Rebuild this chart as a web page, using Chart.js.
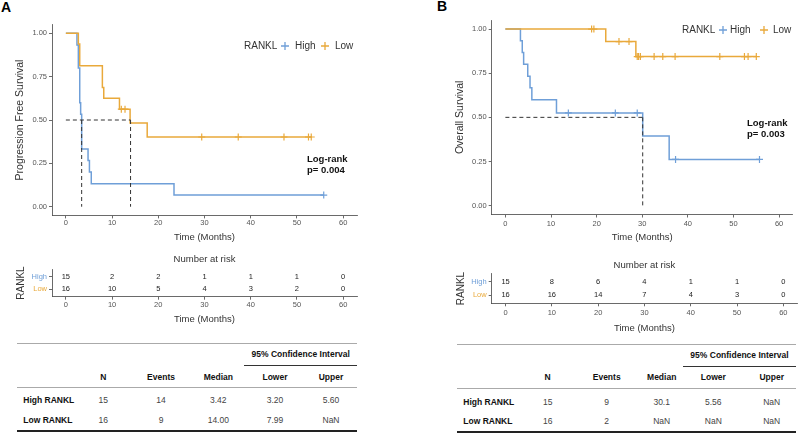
<!DOCTYPE html>
<html>
<head>
<meta charset="utf-8">
<script src="https://cdn.jsdelivr.net/npm/chart.js@4.4.1/dist/chart.umd.min.js"></script>
<style>
  html, body { margin: 0; padding: 0; background: #fff; }
  #fig { position: relative; width: 798px; height: 433px; overflow: hidden; font-family: "Liberation Sans", Arial, sans-serif; }
  #fig canvas { position: absolute; }
  .panel { position: absolute; font-weight: bold; font-size: 14px; color: #000; }
  .cell { position: absolute; font-size: 8.5px; color: #444; white-space: nowrap; transform: translate(-50%, -50%); }
  .cell.left { transform: translate(0, -50%); }
  .cell.b { font-weight: bold; color: #111; }
  .rule { position: absolute; height: 0; }
</style>
</head>
<body>
<div id="fig">
  <div class="panel" style="left:1px;top:-1px;">A</div>
  <div class="panel" style="left:437px;top:-2px;">B</div>
  <canvas id="kmA" width="400" height="245" style="left:0;top:0;"></canvas>
  <canvas id="kmB" width="398" height="245" style="left:400px;top:0;"></canvas>
  <canvas id="riskA" width="400" height="90" style="left:0;top:245px;"></canvas>
  <canvas id="riskB" width="398" height="90" style="left:400px;top:245px;"></canvas>
</div>
<script>
// ---- data ----
var ticksX = [0, 10, 20, 30, 40, 50, 60];
var ticksY = [0, 0.25, 0.5, 0.75, 1];

// A: progression free survival
var pfsHighT = [0, 2.4, 2.7, 3.0, 3.2, 3.42, 4.8, 5.1, 5.5, 23.4, 55.8];
var pfsHighS = [1, 0.933, 0.8, 0.6, 0.533, 0.333, 0.267, 0.2, 0.133, 0.067, 0.067];
var pfsHighCens = [55.8];
var pfsLowT = [0, 2.7, 3.0, 7.9, 8.2, 11.6, 13.9, 17.6, 53.1];
var pfsLowS = [1, 0.9375, 0.8125, 0.6875, 0.625, 0.5625, 0.482, 0.402, 0.402];
var pfsLowCens = [12.0, 12.8, 29.4, 37.3, 47.2, 52.5, 53.1];
var pfsMedian = [3.42, 14.0];
var pfsRiskHigh = [15, 2, 2, 1, 1, 1, 0];
var pfsRiskLow = [16, 10, 5, 4, 3, 2, 0];

// B: overall survival
var osHighT = [0, 3.3, 3.7, 4.0, 4.9, 5.4, 5.8, 11.2, 30.1, 35.9, 55.7];
var osHighS = [1, 0.933, 0.867, 0.8, 0.733, 0.667, 0.6, 0.525, 0.394, 0.262, 0.262];
var osHighCens = [13.8, 24.1, 28.9, 37.3, 55.7];
var osLowT = [0, 22.0, 28.6, 55.0];
var osLowS = [1, 0.929, 0.844, 0.844];
var osLowCens = [18.9, 19.4, 24.9, 27.1, 28.9, 29.2, 29.6, 32.6, 34.5, 37.2, 47.0, 52.4, 53.2, 55.0];
var osMedian = [30.1];
var osRiskHigh = [15, 8, 6, 4, 1, 1, 0];
var osRiskLow = [16, 16, 14, 7, 4, 3, 0];

// summary tables
var tableHead = ['N', 'Events', 'Median', 'Lower', 'Upper'];
var pfsTable = [
  ['High RANKL', '15', '14', '3.42', '3.20', '5.60'],
  ['Low RANKL', '16', '9', '14.00', '7.99', 'NaN']
];
var osTable = [
  ['High RANKL', '15', '9', '30.1', '5.56', 'NaN'],
  ['Low RANKL', '16', '2', 'NaN', 'NaN', 'NaN']
];

var blue = '#6f9fd8';
var orange = '#e9a93b';
var axisCol = '#444';
var tickCol = '#555';

Chart.defaults.font.family = '"Liberation Sans", Arial, sans-serif';
Chart.defaults.animation = false;
Chart.defaults.events = [];

// value of the step curve at time t
function survAt(T, S, t) {
  var s = S[0];
  for (var i = 0; i < T.length; i++) { if (T[i] <= t) s = S[i]; }
  return s;
}

function pts(T, S) {
  return T.map(function (t, i) { return {x: t, y: S[i]}; });
}

// text bits: legend, log-rank label, risk numbers
var decor = {
  id: 'decor',
  afterDraw: function (chart, args, opts) {
    var ctx = chart.ctx;
    ctx.save();
    ctx.textBaseline = 'middle';
    if (opts.legend) {
      var lg = opts.legend;
      ctx.font = '10px "Liberation Sans", Arial, sans-serif';
      ctx.fillStyle = '#333';
      ctx.textAlign = 'left';
      ctx.fillText('RANKL', lg.title, lg.y);
      [[lg.m1, lg.t1, blue, 'High'], [lg.m2, lg.t2, orange, 'Low']].forEach(function (it) {
        ctx.strokeStyle = it[2];
        ctx.lineWidth = 1.3;
        ctx.beginPath();
        ctx.moveTo(it[0] - 4, lg.y); ctx.lineTo(it[0] + 4, lg.y);
        ctx.moveTo(it[0], lg.y - 4); ctx.lineTo(it[0], lg.y + 4);
        ctx.stroke();
        ctx.fillStyle = '#333';
        ctx.fillText(it[3], it[1], lg.y);
      });
    }
    if (opts.logrank) {
      ctx.font = 'bold 9.5px "Liberation Sans", Arial, sans-serif';
      ctx.fillStyle = '#111';
      ctx.textAlign = 'left';
      ctx.fillText('Log-rank', opts.logrank.x, opts.logrank.y);
      ctx.fillText(opts.logrank.p, opts.logrank.x, opts.logrank.y + 11);
    }
    if (opts.riskTitle) {
      var ca = chart.chartArea;
      ctx.font = '9.5px "Liberation Sans", Arial, sans-serif';
      ctx.fillStyle = '#333';
      ctx.textAlign = 'center';
      ctx.fillText('Number at risk', (ca.left + ca.right) / 2, opts.riskTitle);
    }
    ctx.font = '7.5px "Liberation Sans", Arial, sans-serif';
    ctx.fillStyle = '#222';
    ctx.textAlign = 'center';
    chart.data.datasets.forEach(function (ds, i) {
      if (!ds.counts) return;
      chart.getDatasetMeta(i).data.forEach(function (el, j) {
        ctx.fillText(String(ds.counts[j]), el.x, el.y);
      });
    });
    ctx.restore();
  }
};
Chart.register(decor);

function xAxis(h, pad, tpad) {
  return {
    type: 'linear', min: -3, max: 63,
    afterBuildTicks: function (s) { s.ticks = ticksX.map(function (v) { return {value: v}; }); },
    afterFit: function (s) { s.height = h; },
    grid: {drawOnChartArea: false, tickLength: 3, color: axisCol, lineWidth: 0.8},
    border: {color: axisCol, width: 0.8},
    ticks: {padding: pad, color: tickCol, font: {size: 7.5}, maxRotation: 0, autoSkip: false},
    title: {display: true, text: 'Time (Months)', color: '#333', font: {size: 9.5}, padding: {top: 0, bottom: tpad}}
  };
}

function kmChart(id, c) {
  var ds = [];
  var maxMed = Math.max.apply(null, c.median);
  ds.push({type: 'line', data: [{x: 0, y: 0.5}, {x: maxMed, y: 0.5}], borderColor: '#333', borderWidth: 1, borderDash: [4, 3], pointRadius: 0});
  c.median.forEach(function (m) {
    ds.push({type: 'line', data: [{x: m, y: 0.5}, {x: m, y: 0}], borderColor: '#333', borderWidth: 1, borderDash: [4, 3], pointRadius: 0});
  });
  ds.push({type: 'scatter', data: c.lowCens.map(function (t) { return {x: t, y: survAt(c.lowT, c.lowS, t)}; }),
    pointStyle: 'cross', pointRadius: 3.5, borderColor: orange, borderWidth: 1.2});
  ds.push({type: 'scatter', data: c.highCens.map(function (t) { return {x: t, y: survAt(c.highT, c.highS, t)}; }),
    pointStyle: 'cross', pointRadius: 3.5, borderColor: blue, borderWidth: 1.2});
  // stepped 'before': hold the previous value, then drop at the event time
  ds.push({type: 'line', data: pts(c.lowT, c.lowS), stepped: 'before', borderColor: orange, borderWidth: 1.5, pointRadius: 0});
  ds.push({type: 'line', data: pts(c.highT, c.highS), stepped: 'before', borderColor: blue, borderWidth: 1.5, pointRadius: 0});

  return new Chart(document.getElementById(id), {
    type: 'scatter',
    data: {datasets: ds},
    options: {
      responsive: false,
      layout: {padding: {top: c.top, right: c.right, left: 0, bottom: 0}},
      plugins: {legend: {display: false}, tooltip: {enabled: false},
        decor: {legend: c.legend, logrank: c.logrank}},
      scales: {
        x: xAxis(c.xh, c.xpad, 2.3),
        y: {
          type: 'linear', min: -0.05, max: 1.05,
          afterBuildTicks: function (s) { s.ticks = ticksY.map(function (v) { return {value: v}; }); },
          afterFit: function (s) { s.width = c.yw; },
          grid: {drawOnChartArea: false, tickLength: 3, color: axisCol, lineWidth: 0.8},
          border: {color: axisCol, width: 0.8},
          ticks: {padding: 2, color: tickCol, font: {size: 7.5}, callback: function (v) { return Number(v).toFixed(2); }},
          title: {display: true, text: c.ytitle, color: '#333', font: {size: 10.5}, padding: {top: c.ytpad, bottom: 0}}
        }
      }
    }
  });
}

function riskChart(id, c) {
  return new Chart(document.getElementById(id), {
    type: 'scatter',
    data: {datasets: [
      {data: ticksX.map(function (t) { return {x: t, y: 2}; }), counts: c.high, pointRadius: 0},
      {data: ticksX.map(function (t) { return {x: t, y: 1}; }), counts: c.low, pointRadius: 0}
    ]},
    options: {
      responsive: false,
      layout: {padding: {top: c.top, right: c.right, left: 0, bottom: 0}},
      plugins: {legend: {display: false}, tooltip: {enabled: false}, decor: {riskTitle: c.titleY}},
      scales: {
        x: xAxis(c.xh, c.xpad, c.tpad),
        y: {
          type: 'linear', min: 0.4, max: 2.6,
          afterBuildTicks: function (s) { s.ticks = [{value: 1}, {value: 2}]; },
          afterFit: function (s) { s.width = c.yw; },
          grid: {drawOnChartArea: false, tickLength: 3, color: axisCol, lineWidth: 0.8},
          border: {color: axisCol, width: 0.8},
          ticks: {padding: 2, font: {size: 7.5},
            color: function (ctx) { return ctx.tick && ctx.tick.value === 2 ? blue : orange; },
            callback: function (v) { return v === 2 ? 'High' : 'Low'; }},
          title: {display: true, text: 'RANKL', color: '#333', font: {size: 10}, padding: {top: c.ytpad, bottom: 0}}
        }
      }
    }
  });
}

kmChart('kmA', {
  highT: pfsHighT, highS: pfsHighS, highCens: pfsHighCens,
  lowT: pfsLowT, lowS: pfsLowS, lowCens: pfsLowCens, median: pfsMedian,
  top: 24.6, right: 43, yw: 52, xh: 29.6, xpad: 0.5, ytpad: 13.7,
  ytitle: 'Progression Free Survival',
  legend: {title: 244, m1: 285, t1: 295, m2: 325, t2: 335, y: 46},
  logrank: {x: 307, y: 159, p: 'p= 0.004'}
});

kmChart('kmB', {
  highT: osHighT, highS: osHighS, highCens: osHighCens,
  lowT: osLowT, lowS: osLowS, lowCens: osLowCens, median: osMedian,
  top: 20.2, right: 0.8, yw: 91.7, xh: 30.5, xpad: 2, ytpad: 53.7,
  ytitle: 'Overall Survival',
  legend: {title: 282, m1: 323, t1: 330, m2: 364, t2: 373, y: 30},
  logrank: {x: 347, y: 123, p: 'p= 0.003'}
});

riskChart('riskA', {high: pfsRiskHigh, low: pfsRiskLow, top: 24.4, right: 43, yw: 52, xh: 38.3, xpad: 1, tpad: 10.3, ytpad: 15.7, titleY: 14});
riskChart('riskB', {high: osRiskHigh, low: osRiskLow, top: 28.8, right: 0.8, yw: 91.7, xh: 31.7, xpad: 2.5, tpad: 1, ytpad: 55.7, titleY: 20});

// summary tables below the risk tables
function makeTable(left, width, colX, ciLeft, rows, ys) {
  var fig = document.getElementById('fig');
  function rule(y, x0, w, col, th) {
    var d = document.createElement('div');
    d.className = 'rule';
    d.style.cssText = 'left:' + x0 + 'px;top:' + (y - th / 2) + 'px;width:' + w + 'px;border-top:' + th + 'px solid ' + col + ';';
    fig.appendChild(d);
  }
  function cell(txt, x, y, cls) {
    var d = document.createElement('div');
    d.className = 'cell ' + (cls || '');
    d.textContent = txt;
    d.style.left = x + 'px';
    d.style.top = y + 'px';
    fig.appendChild(d);
  }
  rule(ys[0], left, width, '#aaa', 1);
  cell('95% Confidence Interval', left + (ciLeft + width) / 2, ys[1], 'b');
  rule(ys[2], left + ciLeft, width - ciLeft, '#333', 1);
  tableHead.forEach(function (h, i) { cell(h, left + colX[i], ys[3], 'b'); });
  rule(ys[4], left, width, '#aaa', 1);
  rows.forEach(function (r, k) {
    cell(r[0], left + 6.6, ys[5 + k], 'b left');
    for (var i = 1; i < r.length; i++) cell(r[i], left + colX[i - 1], ys[5 + k]);
  });
  rule(ys[7], left, width, '#222', 2);
}

makeTable(16.7, 340.6, [86.6, 144.3, 201.6, 258.3, 314.3], 227.3, pfsTable,
  [343.5, 354, 365.7, 376.7, 387.7, 400, 420, 430.7]);
makeTable(456.7, 339.3, [91, 150, 205, 256.6, 315], 226.3, osTable,
  [344, 355, 366, 377.3, 388.3, 401.7, 421, 431.7]);
</script>
</body>
</html>
